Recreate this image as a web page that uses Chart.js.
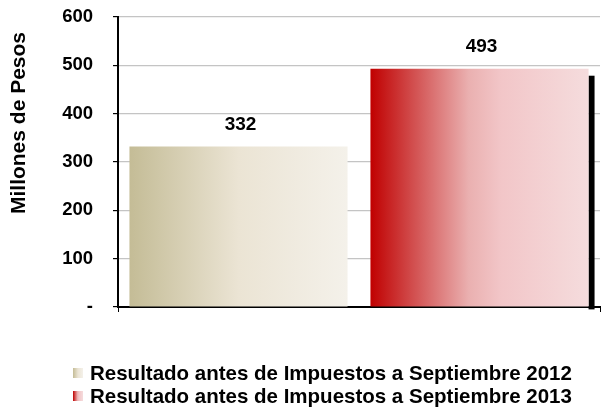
<!DOCTYPE html>
<html>
<head>
<meta charset="utf-8">
<script src="https://cdn.jsdelivr.net/npm/chart.js@4/dist/chart.umd.min.js"></script>
<style>
html,body{margin:0;padding:0;background:#fff;}
#wrap{width:603px;height:416px;position:relative;}
</style>
</head>
<body>
<div id="wrap"><canvas id="c" width="603" height="416"></canvas></div>
<script>
const categories = [''];
const seriesNames = ['Resultado antes de Impuestos a Septiembre 2012', 'Resultado antes de Impuestos a Septiembre 2013'];
const values2012 = [332];
const values2013 = [493];
const yTicks = [0, 100, 200, 300, 400, 500, 600];
const yTitle = 'Millones de Pesos';

const gradStops = [
  [[0, '#c4bc96'], [0.5, '#ebe4d4'], [1, '#f4f1ea']],
  [[0, '#c00000'], [0.2, '#d25050'], [0.45, '#eab0b0'], [0.6, '#f2c6c8'], [1, '#f5dcdd']]
];
const FONT = 'Liberation Sans, Arial, sans-serif';

function makeGrad(ctx, x0, x1, i) {
  const g = ctx.createLinearGradient(x0, 0, x1, 0);
  gradStops[i].forEach(s => g.addColorStop(s[0], s[1]));
  return g;
}

const barPlugin = {
  id: 'barPlugin',
  beforeDatasetsDraw(chart) {
    const ctx = chart.ctx;
    chart.data.datasets.forEach((ds, i) => {
      const meta = chart.getDatasetMeta(i);
      meta.data.forEach(el => {
        const l = el.x - el.width / 2, r = el.x + el.width / 2;
        el.options.backgroundColor = makeGrad(ctx, l, r, i);
        if (i === 1) {
          ctx.save();
          ctx.fillStyle = '#000';
          ctx.fillRect(r, el.y + 7, 6, el.base - el.y - 4);
          ctx.restore();
        }
      });
    });
  },
  afterDatasetsDraw(chart) {
    const ctx = chart.ctx;
    ctx.save();
    ctx.font = 'bold 19px ' + FONT;
    ctx.fillStyle = '#000';
    ctx.textAlign = 'center';
    ctx.textBaseline = 'middle';
    chart.data.datasets.forEach((ds, i) => {
      const meta = chart.getDatasetMeta(i);
      meta.data.forEach((el, j) => {
        ctx.fillText(String(ds.data[j]), el.x + 2, el.y - 22);
      });
    });
    ctx.restore();
  },
  afterDraw(chart) {
    const ctx = chart.ctx;
    // y axis title
    ctx.save();
    ctx.font = 'bold 21px ' + FONT;
    ctx.fillStyle = '#000';
    ctx.textAlign = 'center';
    ctx.textBaseline = 'middle';
    ctx.translate(19, 123);
    ctx.rotate(-Math.PI / 2);
    ctx.fillText(yTitle, 0, 0);
    ctx.restore();
    // legend
    ctx.save();
    ctx.font = 'bold 20.5px ' + FONT;
    ctx.textAlign = 'left';
    ctx.textBaseline = 'middle';
    const rows = [373, 396];
    chart.data.datasets.forEach((ds, i) => {
      const y = rows[i];
      ctx.fillStyle = makeGrad(ctx, 73, 83, i);
      ctx.fillRect(73, y - 5, 10, 10);
      ctx.fillStyle = '#000';
      ctx.fillText(ds.label, 90, y + 1);
    });
    ctx.restore();
  }
};

new Chart(document.getElementById('c'), {
  type: 'bar',
  data: {
    labels: categories,
    datasets: [
      { label: seriesNames[0], data: values2012, backgroundColor: '#dcd5bb', borderWidth: 0 },
      { label: seriesNames[1], data: values2013, backgroundColor: '#e08080', borderWidth: 0 }
    ]
  },
  options: {
    responsive: false,
    animation: false,
    devicePixelRatio: 1,
    layout: { padding: { top: 17, right: 3, left: 0, bottom: 0 } },
    datasets: { bar: { categoryPercentage: 1.0, barPercentage: 0.905 } },
    scales: {
      x: {
        grid: { display: true, drawOnChartArea: false, tickColor: '#000', tickLength: 5, offset: true },
        border: { color: '#000', width: 2 },
        ticks: { display: false },
        afterFit(scale) { scale.height = 109; scale.paddingLeft = 0; scale.paddingRight = 0; }
      },
      y: {
        min: 0, max: 600,
        afterBuildTicks(scale) { scale.ticks = yTicks.map(v => ({ value: v })); },
        afterFit(scale) { scale.width = 118; scale.paddingTop = 0; scale.paddingBottom = 0; },
        grid: { color: '#c4c4c4', tickColor: '#000', tickLength: 5, lineWidth: 1.2 },
        border: { color: '#000', width: 2 },
        ticks: {
          color: '#000',
          padding: 20,
          font: { family: FONT, size: 18.5, weight: 'bold' },
          callback: v => v === 0 ? '-' : String(v)
        },
        title: { display: false, text: yTitle }
      }
    },
    plugins: {
      tooltip: { enabled: false },
      legend: { display: false }
    }
  },
  plugins: [barPlugin]
});
</script>
</body>
</html>
